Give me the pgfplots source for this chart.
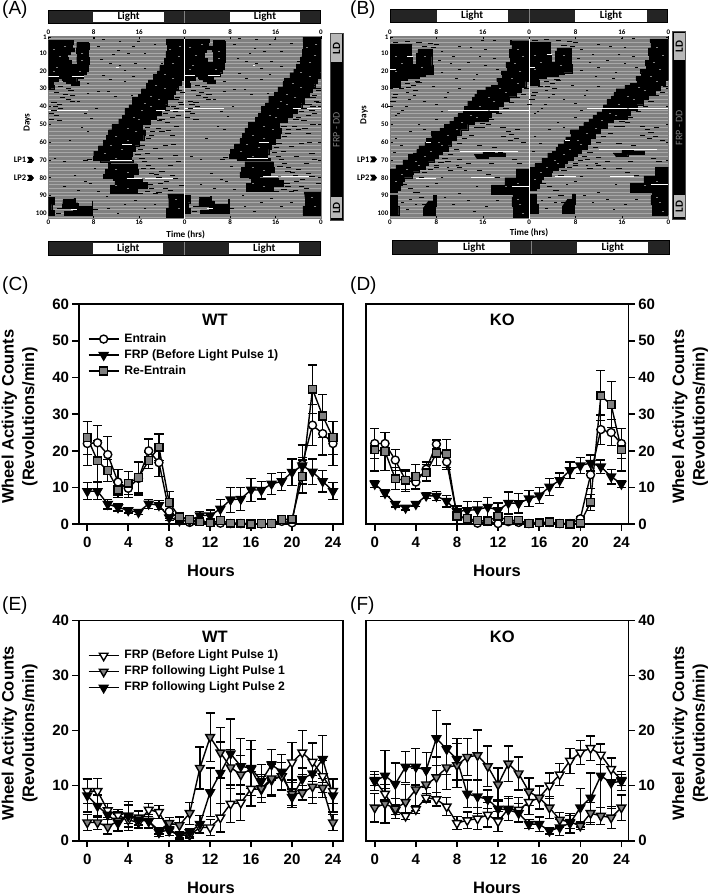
\documentclass[border=0pt]{standalone}
\usepackage{fontspec}
\setmainfont{Liberation Sans}
\newfontfamily\crl{Carlito}
\usepackage{pgfplots}
\usepackage{pgfplotstable}
\pgfplotsset{compat=1.18}

\definecolor{actbg}{gray}{0.50}
\definecolor{actline}{gray}{0.66}
\definecolor{midgray}{gray}{0.50}
\definecolor{bardark}{gray}{0.14}
\definecolor{ldgray}{gray}{0.72}

% ---- wheel activity, columns: a/ae, b/be, c/ce = the three series of a panel
\pgfplotstableread{
h a ae b be c ce
0 22 6 9 2.3 23.6 4.5
1 22.2 4.7 9 2.3 17.3 5.6
2 19 5 5.5 1.3 14.6 3
3 11.5 3.5 4.6 1 9.4 2
4 9.8 2.5 3.8 .7 11.2 3.1
5 12.5 4.5 3.3 .6 12.7 4.2
6 20 3.2 5.6 1.2 17.4 2.3
7 16.8 3.8 5.2 1.2 21 3.6
8 3.5 2 1.8 .8 5.9 3
9 1.5 .6 1 .5 2 .5
10 .5 .3 1 .5 1.3 .5
11 1 .5 2.4 1 .7 .4
12 .4 .3 2.4 1.5 .4 .3
13 .3 .2 4.2 2.6 1 .5
14 .2 .1 6.7 3.4 .3 .2
15 .2 .1 6.9 3.2 .3 .2
16 .1 .1 9.4 3.1 .1 .1
17 .1 .1 9.3 2.4 .2 .1
18 .2 .1 11 2.9 .2 .1
19 .8 .3 11.7 2.5 1.3 .5
20 .4 .3 14.2 3.6 1.4 .5
21 16.3 5.3 16 2.2 13 4.5
22 27 5.6 14.3 3.5 36.8 6.6
23 24.7 5.8 11.7 2.9 29.5 5.8
24 22 6 9 2.3 23.6 4.5
}\tabC
\pgfplotstableread{
h a ae b be c ce
0 22 4 11 1 20.3 5.8
1 22 3 8.5 1 19.8 5.1
2 17.5 2.8 5.5 .8 12.4 3
3 12 3 4.5 .6 12 2.5
4 11.5 2 5.5 .7 13 3.3
5 15 2 7.8 .8 14 2.2
6 21.8 1.3 7.7 1.2 19.4 3.4
7 17 2 6.3 1.6 19.2 3.8
8 2.5 1 3.5 1.5 2.2 2
9 1.5 .6 3.8 2.5 1.6 1
10 .3 .3 4 2.2 1 .5
11 .8 .4 4.7 2.5 .9 .4
12 .2 .2 3.8 2 2.2 .8
13 .7 .3 5.8 3 1 .4
14 .5 .3 5.7 2.6 1.1 .4
15 .2 .1 7 2.2 .2 .1
16 .4 .2 7.8 2.2 .4 .2
17 .5 .2 10.2 2.3 .6 .2
18 .2 .1 12 2 .2 .1
19 .2 .1 14.7 2.3 .1 .1
20 1.5 .5 16 2.2 .3 .2
21 13.5 3.8 16.7 2.2 6 2.2
22 25.8 4 15.7 1.8 35 6.8
23 25 3.5 13 2 32.6 6.3
24 22 4 11 1 20.3 5.8
}\tabD
\pgfplotstableread{
h a ae b be c ce
0 9 2.3 3.3 1.5 8.2 3
1 9 2.3 3.3 1.3 6.3 2
2 5.5 1.3 2.5 1.3 4.7 2
3 4.6 1 3.6 1.7 3.2 1.5
4 3.8 .7 4.5 2.6 4.5 2
5 3.3 .6 4.2 1.3 3.8 1.5
6 5.6 1.2 3.6 1.2 3.5 1.3
7 5.2 1.2 1.8 .6 1.5 .7
8 1.8 .8 3.2 1 2 1
9 1 .5 2.8 1.5 1 .7
10 1 .5 5 2 1.5 .7
11 2.4 1 13.2 3.8 3 1.6
12 2.4 1.5 18.8 4.4 8.8 4.4
13 4.2 2.6 16 4.6 12.3 5.6
14 6.7 3.4 13.3 3.3 15.8 6.3
15 6.9 3.2 12 3.5 13.5 5
16 9.4 3.1 13 3.5 13.2 5
17 9.3 2.4 9.5 2.5 10.8 3
18 11 2.9 11.3 3 13.8 2.8
19 11.7 2.5 11.7 2.5 12.5 3.2
20 14.2 3.6 8.5 2.5 7.9 1.5
21 16 4 8.7 1.3 11.2 2
22 14.3 3.5 9.8 2 12.2 5.5
23 11.7 2.9 9.6 1.7 14.8 4.3
24 9 2.3 3.3 1.5 8.2 3
}\tabE
\pgfplotstableread{
h a ae b be c ce
0 11 1 6 2.6 10.8 1.7
1 8.5 1 6.7 3.5 11.8 4.6
2 5.5 .8 5.8 1.8 10.3 3.8
3 4.5 .6 7 3.2 13.4 2.8
4 5.7 .7 9.3 3.8 13.4 3.3
5 7.8 .8 10.2 3 12.8 3.2
6 7.5 1.2 11.5 3.7 18.6 5
7 6.2 1.6 13.3 4 16.6 4.6
8 3.2 1.2 13.7 4 14.8 3.8
9 3.7 1.5 15.2 3.4 8.5 2.5
10 4 2 15.5 4.6 8 3
11 4.7 2.2 13.5 3.7 7.5 1.7
12 3.5 1.8 10.2 3 5.8 1.7
13 5.8 2.2 14 3.2 5.6 2
14 5.6 2.2 12.2 3 5 1.7
15 7 2.2 8.9 2.5 3 .8
16 7.8 2.2 7.8 2 3 1.3
17 10 2.3 6 2 1.8 .6
18 12 2 3.8 1.3 2.4 1.4
19 14.5 2.3 3.4 1.2 3.2 1.8
20 16 2.2 2.7 .7 6 3.5
21 16.8 2.2 5 2 7.8 4.5
22 15.6 1.8 4.5 1.5 11.8 5.8
23 13 2 4.2 2 10.5 4.6
24 11 1 6 2.3 10.8 1.7
}\tabF

% ---- actogram A: outlines of the black activity blocks (hour, day)
\pgfplotstableread{
h d
21 2
20.8 5
20.9 9
20.7 13
20.4 17
19.6 20
19.2 22
18.5 25
17.6 27
17.3 30
16.4 33
15.8 35
14.8 39
14.2 41
13.5 45
13 47
12.4 50
11.2 53
10.6 56
10.2 59
9.7 62
8.8 65
8 68
7.9 70
9.2 71
14.2 71
15 70
14.6 68
14.8 65
15.3 62
16 59
16.8 56
17 53
16.6 50
18 47
19 45
19.8 42
20.6 39
21 36
22 33
22.4 30
22.9 28
23.4 25
23.8 22
24 20
24 2
nan nan
11 72
10.6 75
10 78
9.7 80.5
11.4 81.5
11.7 84
10.9 88.8
15.3 88.8
15.6 86
17.4 82.5
16.5 81
13.2 80.3
15 78
15.8 75
15.6 72
nan nan
0 3
4.3 3
4.4 5
4.2 7
4.6 9
3.8 10.5
3.4 12
3.5 14
4 16
5.1 15
5 12
5.1 10
4.9 7
5 4
7 4.5
7.2 8
7.1 12
7.2 16
7 20
6.6 22
6.2 24
5 26
5.4 28
4 27
3.2 25
2.4 24
1.8 26
.8 28
1 30
0 30
nan nan
0 91
.8 91
1 95
.6 98
1 101
0 101
nan nan
2.6 92
4.5 91.5
4.7 94
5.2 96
7.7 93
7.8 101
3.2 101
2.8 99
4.4 97
2.5 95
nan nan
21 89
24 88
24 102
21.2 102
20.8 97
21.2 93
}\blockA
\pgfplotstableread{
h d
9.7 2.6
12.6 3.6
15.9 3.6
18.8 5.4
8.8 6.4
15 6.4
12.4 8.6
17 10
11.5 11
14.1 10
9.4 13.8
10.9 15.7
15.3 15.7
12.6 16.7
20 15.7
13.5 19.5
17 18.5
9.7 22.3
10.9 25
15 23
13.5 26
7 27
10.6 31.6
7 32.5
11.8 34.4
8.8 31.6
14.7 33.5
5.3 37.3
8.5 41
7.6 46.6
6.5 43.8
5.9 52
3.8 58.8
7 54
1.2 69
2.9 71
6.5 82
4.7 78.5
2.9 85
8.2 74.7
7.4 83
5.3 87
10.3 90.7
13.5 95
15.3 92.5
12.3 100
18.8 95
10.6 97
17 97
8.8 87.8
}\specksA
\pgfplotstableread{
h d
19.4 52.3
20 54.1
21.2 53.2
22.6 51.3
21.8 56
18.2 56
20.6 61.6
22 61.3
18.8 63.5
17.4 66.3
19.7 69.1
22.4 67.3
22.9 71
21.5 72.9
20 76.6
18.2 77.6
21.8 78.5
19.7 83.2
18.2 86
16.8 74.7
22.4 80.4
23.5 84.1
16.2 88.8
18.8 88.8
20.6 86
22.5 29
23 31
21.5 33
22.8 35
20.5 37
23.5 39
22 40
21 42
22.6 41
1 25
3 26
4.5 28
2.2 29
3.5 30
4 31
1.5 32
3 33
4.3 34
2.5 35
3.6 36
4.2 37
1 38
2 39
1.3 40
2.2 41
1 42
.6 44
1.4 45
.5 47
2 48
23 28
22.2 30
23.6 32
21.5 34
22.6 36
23.2 38
21 40
22.4 43
20.6 44
21.8 46
20 47
22.9 45
19.6 48
21 49
17.5 52
18.3 54
17.6 58
16.6 62
16.2 64
15.8 67
16.5 69
17 71
17.6 73
18.3 75
19 78
19.5 80
20.8 82
17 83
18 84
21.5 87
19.5 88
17.5 87.5
6.6 70.5
7.2 69.5
2 97
1.8 100
8.3 98
}\dashesA
\pgfplotstableread{
h d
0 23.3
1.8 23.3
nan nan
4.1 23.3
6.2 23.3
nan nan
10.9 70
14.7 70
nan nan
13.8 80.4
16.5 80.4
nan nan
13 61
14.8 61
nan nan
12 18
12.4 18
nan nan
0 42
7 42
nan nan
19 42
24 42
nan nan
17 80.4
22 80.4
nan nan
4 98
5 98
}\whitesA
\pgfplotstableread{
h d
21.5 8
23 12
22 16
23.2 6
20.5 22
22 24
19 28
20.5 30
18 34
19.5 36
17 38
16.5 42
18 40
15 46
16 47
14 52
15.5 54
12 57
14 59
11 62
13 64
10 66
12 69
12 75
14 77
12 84
14 86
1 8
2 12
1.5 18
6 10
6 14
5.5 20
3 6
1 20
22.5 92
23 97
}\saltA

% ---- actogram B
\pgfplotstableread{
h d
21 3
20.8 5
21 8
20.6 12
20.7 15
20 18
20.2 20
19.2 22
19.4 24
18.4 26
18.6 28
17.5 29
16.5 31
15 33
14.6 35
14.2 37
13.4 40
12.8 42
12.6 44
11.7 46
11 48
10.3 50
9.4 52
8.6 54
7.1 56
7.2 58
6.3 60
6 62
5 64
4.6 66
4 67
3.2 70
2.2 73
1 75
0 77
0 88
1.2 87
1.7 84
2.1 82
2.5 80
3.8 78
4 76.6
5 75
6 73
6.6 71
7.6 69
8.3 67
9 65
10 62
10.6 59
11.4 56
12.2 53
13.4 50
14.5 48
16.9 46
17.4 43
18.6 40
19.6 37
20.6 34.5
21.8 32
22.6 29
23.4 26
24 23
24 3
nan nan
24 75
21.8 80
19.8 84
17.5 87
17.5 89
21.2 91
21 96
21.3 102
24 102
nan nan
0 5
3.8 5
3.6 8
3.6 12
3.8 16
4.6 16
4.5 10
4.8 8
7 8
7.3 12
7.2 17
7.4 22
6 23
5 24
3 25
1.6 26
1.7 29
0 30
nan nan
0 90
1.3 90
1.2 96
1.5 101
0 101
nan nan
6.6 93
7.5 90
7.9 96
7.8 101
6 101
5.7 97
nan nan
14.5 67
16 65
18 66
19.8 68
17 69
15 69.5
}\blockB
\pgfplotstableread{
h d
16 3
18 3
12 6
14 7
9 9
16.5 8
11 12
15.5 12
18 13
8.5 14
10.5 16
13.5 15
16.5 17
12 19
18.5 19
9 21
11.5 24
14.5 25
15 22
7.5 29
10 32
6 37
8 39
12 30
9.6 35
3 32
3.4 36
4.2 34
1.5 44
2.2 42
2.8 40
1 45
9 43
8 47
5 50
3.5 54
1 58
2 62
.8 66
6 53
13 76
11.6 73
10 74
9 80
8 83
6.5 85
5 88
3.5 92
4.5 95
3 98
2.2 94
9.5 91
11 95
13.5 93
14.6 99
16.6 96
18.5 93
12 89
15 85
}\specksB
\pgfplotstableread{
h d
19.5 52
20.4 54
21 55.5
19.6 57
20.8 59
22 53
21.8 58
16 52
17 50
23 60
15.5 62
18 63
19 66
21.5 70
22.4 72
17.5 72
12 74
13.5 72
10.5 76
15.5 76
17 78
18.5 80
8 74
7 75.5
6 77
10 71
12 69.5
3.5 86
4.5 88
5.5 91
2.5 84
6 95
1.5 86
0 40
1 33
2 30
3 27
4 28
5 26.5
3.2 29.5
4.4 31
.8 35
.5 37
1 22
2.4 23
4.8 26
17.5 47
18.8 44
20 41
21 38
22 35
23 33
23.5 30
16 49.5
15 52
14 56
12.8 58
12 61
11.5 64
10.5 67
9.5 69
8.8 71.5
8 73
5.5 80
1 4
3 3.5
5 4
7 4.5
8 5
2 6
6 6.5
7.5 7
}\dashesB
\pgfplotstableread{
h d
4.5 80.4
8 80.4
nan nan
6.2 60
7 60
nan nan
0 19
1 19
nan nan
3 12
4 12
nan nan
21 85
24 85
nan nan
10 42
24 42
nan nan
12 65
22 65
nan nan
14 80
18 80
}\whitesB
\pgfplotstableread{
h d
22 8
23 12
21.5 16
22.5 20
21 24
22 27
19 30
20 32
17 35
18 37
15.5 40
17 42
14 45
15 46
12.5 49
11.5 53
10 56
8.5 60
9 62
7 65
6 68
4.5 71
5 73
3 75
2 78
1 82
22.5 95
22 92
23 100
1 12
2 16
1 20
6 12
5.5 18
20 85
22 83
}\saltB

\pgfplotsset{
  actbase/.style={
    scale only axis, width=#1, height=182.5pt, xmin=0, xmax=48, ymin=.5, ymax=103,
    xtick={0,8,...,48}, xticklabels={0,8,16,0,8,16,0},
    tick label style={font=\crl\bfseries\fontsize{7}{7}\selectfont},
    /pgf/number format/assume math mode=true,
    major tick length=2.5pt, tick style={black, line width=.5pt},
    axis line style={draw=gray, line width=.4pt},
    xticklabel style={inner sep=1pt},
  },
  act/.style={
    actbase=#1, y dir=reverse,
    ytick={1,10,20,...,100}, tick pos=both, ticklabel pos=left,
    xticklabel pos=lower,
    minor ytick={2,4,...,102}, yminorgrids=true, minor tick length=0pt,
    minor grid style={actline, line width=.8pt},
    axis background/.style={fill=actbg},
    yticklabel style={inner sep=1.5pt},
    unbounded coords=jump,
  },
  acttop/.style={
    actbase=#1, xticklabel pos=upper, ytick=\empty, axis y line=none, axis x line*=top,
  },
  panel/.style={
    scale only axis, width=#1, height=220.3pt, ymin=0,
    clip=false,
    xtick={0,4,...,24},
    tick label style={font=\bfseries\fontsize{15}{15}\selectfont},
    /pgf/number format/assume math mode=true,
    axis line style={line width=1.6pt},
    tick style={black, line width=1.6pt},
    tick align=outside, major tick length=6.5pt,
    xtick pos=bottom, xticklabel style={yshift=-3pt},
    every axis x label/.style={at={(axis description cs:.5,-.213)},anchor=center,
      font=\bfseries\fontsize{16.5}{16.5}\selectfont},
    xlabel=Hours,
    legend style={draw=none, fill=none, inner sep=0pt, outer sep=0pt,
      anchor=north west, row sep=4pt, font=\bfseries\fontsize{12.2}{12.2}\selectfont,
      nodes={text height=9pt, text depth=3pt, inner sep=0pt},
      /tikz/every odd column/.style={column sep=5pt}},
    legend cell align=left,
    legend image code/.code={
      \draw[mark repeat=2,mark phase=2,##1] plot coordinates {(0pt,0pt)(15pt,0pt)(30pt,0pt)};
    },
  },
  leftp/.style={panel=264pt, xmin=-.81, xmax=24.98, ytick pos=left,
    every axis y label/.style={at={(axis description cs:-.225,.488)},anchor=center,rotate=90,
      align=center, font=\bfseries\fontsize{16.5}{20.5}\selectfont},
    ylabel={Wheel Activity Counts\\(Revolutions/min)}},
  rightp/.style={panel=262.6pt, xmin=-.88, xmax=24.67, ytick pos=right,
    every axis y label/.style={at={(axis description cs:1.235,.488)},anchor=center,rotate=90,
      align=center, font=\bfseries\fontsize{16.5}{20.5}\selectfont},
    ylabel={Wheel Activity Counts\\(Revolutions/min)}},
  ser/.style={black, line width=1.4pt, mark options={solid, draw=black, line width=.9pt}},
  eb/.style={error bars/.cd, y dir=both, y explicit, error bar style={line width=1.25pt},
    error mark options={rotate=90, mark size=4.6pt, line width=1.25pt}, /pgfplots/.cd},
  scircle/.style={ser, mark=*, mark size=4pt, mark options={fill=white}},
  stri/.style={ser, mark=triangle*, mark size=5pt, mark options={rotate=180, fill=#1}},
  ssq/.style={ser, mark=square*, mark size=3.9pt, mark options={fill=#1}},
  blk/.style={const plot, fill=black, draw=black, line width=.3pt, forget plot},
  sm/.style={only marks, mark=-, mark size=1.3pt, mark options={line width=.9pt}, black, forget plot},
  lg/.style={only marks, mark=-, mark size=2.6pt, mark options={line width=.95pt}, black, forget plot},
  sl/.style={only marks, mark=-, mark size=1pt, mark options={line width=.6pt}, gray, forget plot},
}

\newcommand\blocks[5]{%
  \addplot[blk] table {#1};
  \addplot[blk] table[x expr=\thisrow{h}+24, y expr=\thisrow{d}-1] {#1};
  \addplot[sm] table {#2};
  \addplot[sm] table[x expr=\thisrow{h}+24, y expr=\thisrow{d}-1] {#2};
  \addplot[lg] table {#3};
  \addplot[lg] table[x expr=\thisrow{h}+24, y expr=\thisrow{d}-1] {#3};
  \addplot[sl] table {#5};
  \addplot[sl] table[x expr=\thisrow{h}+24, y expr=\thisrow{d}-1] {#5};
  \addplot[white, line width=.8pt, forget plot] table {#4};
  \addplot[white, line width=.8pt, forget plot] table[x expr=\thisrow{h}+24, y expr=\thisrow{d}-1] {#4};
  \addplot[white, line width=1pt, forget plot] coordinates {(24,.5) (24,103)};
}

% x0 x1 y0 y1, two white boxes
\newcommand\lightbar[8]{%
  \fill[bardark,draw=black,line width=.6pt] (#1,#3) rectangle (#2,#4);
  \fill[white] (#5,#3+1) rectangle (#6,#4-1);
  \fill[white] (#7,#3+1) rectangle (#8,#4-1);
  \draw[gray,line width=.5pt] ({(#1+#2)/2},#3) -- ({(#1+#2)/2},#4);
  \node[font=\crl\bfseries\fontsize{11}{11}\selectfont] at ({(#5+#6)/2},{(#3+#4)/2}) {Light};
  \node[font=\crl\bfseries\fontsize{11}{11}\selectfont] at ({(#7+#8)/2},{(#3+#4)/2}) {Light};
}
% x0 x1 y0 y1, LD boxes
\newcommand\sidebar[8]{%
  \fill[black,draw=black!70,line width=.6pt] (#1,#3) rectangle (#2,#4);
  \fill[ldgray] (#1+1,#5) rectangle (#2-1,#6);
  \fill[ldgray] (#1+1,#7) rectangle (#2-1,#8);
  \node[rotate=90,font=\crl\bfseries\fontsize{11}{11}\selectfont] at ({(#1+#2)/2},{(#5+#6)/2}) {LD};
  \node[rotate=90,font=\crl\bfseries\fontsize{11}{11}\selectfont] at ({(#1+#2)/2},{(#7+#8)/2}) {LD};
  \node[rotate=90,text=gray,font=\crl\fontsize{10}{10}\selectfont] at ({(#1+#2)/2},{(#6+#7)/2}) {FRP - DD};
}
\newcommand\chev[2]{\fill[black] (#1-3,#2-3) -- (#1+1.5,#2-3) -- (#1+4,#2) -- (#1+1.5,#2+3) -- (#1-3,#2+3) -- (#1-1,#2) -- cycle;}

\begin{document}
\begin{tikzpicture}
\path[use as bounding box] (0pt,0pt) rectangle (709pt,895pt);

% ---------- actograms
\begin{axis}[act=272.7pt, at={(48.3pt,676.3pt)}, anchor=south west]
\blocks{\blockA}{\specksA}{\dashesA}{\whitesA}{\saltA}
\end{axis}
\begin{axis}[acttop=272.7pt, at={(48.3pt,676.3pt)}, anchor=south west]
\end{axis}
\begin{axis}[act=278.3pt, at={(390pt,676.3pt)}, anchor=south west]
\blocks{\blockB}{\specksB}{\dashesB}{\whitesB}{\saltB}
\end{axis}
\begin{axis}[acttop=278.3pt, at={(390pt,676.3pt)}, anchor=south west]
\end{axis}

% ---------- panel C
\begin{axis}[leftp, at={(79pt,370.7pt)}, anchor=south west, ymax=60, ytick={0,10,...,60},
  legend style={at={(axis description cs:.034,.868)}}]
\addlegendimage{scircle}\addlegendentry{Entrain}
\addlegendimage{stri=black}\addlegendentry{FRP (Before Light Pulse 1)}
\addlegendimage{ssq=midgray}\addlegendentry{Re-Entrain}
\addplot[scircle, eb, forget plot] table[x=h,y=a,y error=ae] {\tabC};
\addplot[stri=black, eb, forget plot] table[x=h,y=b,y error=be] {\tabC};
\addplot[ssq=midgray, eb, forget plot] table[x=h,y=c,y error=ce] {\tabC};
\node[font=\bfseries\fontsize{16.5}{16.5}\selectfont] at (axis description cs:.515,.93) {WT};
\end{axis}

% ---------- panel D
\begin{axis}[rightp, at={(365.7pt,370.7pt)}, anchor=south west, ymax=60, ytick={0,10,...,60}]
\addplot[scircle, eb, forget plot] table[x=h,y=a,y error=ae] {\tabD};
\addplot[stri=black, eb, forget plot] table[x=h,y=b,y error=be] {\tabD};
\addplot[ssq=midgray, eb, forget plot] table[x=h,y=c,y error=ce] {\tabD};
\node[font=\bfseries\fontsize{16.5}{16.5}\selectfont] at (axis description cs:.52,.93) {KO};
\end{axis}

% ---------- panel E
\begin{axis}[leftp, at={(79pt,54.3pt)}, anchor=south west, ymax=40, ytick={0,10,...,40},
  legend style={at={(axis description cs:.034,.867)}}]
\addlegendimage{stri=white}\addlegendentry{FRP (Before Light Pulse 1)}
\addlegendimage{stri=midgray}\addlegendentry{FRP following Light Pulse 1}
\addlegendimage{stri=black}\addlegendentry{FRP following Light Pulse 2}
\addplot[stri=white, eb, forget plot] table[x=h,y=a,y error=ae] {\tabE};
\addplot[stri=midgray, eb, forget plot] table[x=h,y=b,y error=be] {\tabE};
\addplot[stri=black, eb, forget plot] table[x=h,y=c,y error=ce] {\tabE};
\node[font=\bfseries\fontsize{16.5}{16.5}\selectfont] at (axis description cs:.515,.9275) {WT};
\end{axis}

% ---------- panel F
\begin{axis}[rightp, at={(365.7pt,54.3pt)}, anchor=south west, ymax=40, ytick={0,10,...,40}]
\addplot[stri=white, eb, forget plot] table[x=h,y=a,y error=ae] {\tabF};
\addplot[stri=midgray, eb, forget plot] table[x=h,y=b,y error=be] {\tabF};
\addplot[stri=black, eb, forget plot] table[x=h,y=c,y error=ce] {\tabF};
\node[font=\bfseries\fontsize{16.5}{16.5}\selectfont] at (axis description cs:.52,.9275) {KO};
\end{axis}

% ---------- things round the actograms, in reference pixels (y down)
\begin{scope}[x=1pt,y=-1pt,yshift=895pt]
\lightbar{48.3}{320}{10.7}{23.3}{93.3}{164}{230}{300}
\lightbar{48.3}{320}{241.7}{255}{93.3}{163.3}{229.3}{299.3}
\lightbar{390.7}{667}{9.3}{22.7}{436.7}{507.7}{575.3}{646.7}
\lightbar{392.7}{669}{240.7}{254}{438.3}{510}{577.3}{648.3}
\sidebar{330}{343}{33.5}{220}{34.5}{62}{197.5}{218.5}
\sidebar{672.7}{685.7}{31.7}{219}{33}{60}{195}{217.5}
\node[font=\crl\bfseries\fontsize{9.2}{9.2}\selectfont] at (185.7,234.3) {Time (hrs)};
\node[font=\crl\bfseries\fontsize{9.2}{9.2}\selectfont] at (529,232.3) {Time (hrs)};
\node[rotate=90,font=\crl\bfseries\fontsize{9.2}{9.2}\selectfont] at (27.3,122.7) {Days};
\node[rotate=90,font=\crl\bfseries\fontsize{9.2}{9.2}\selectfont] at (364,115) {Days};
\node[font=\crl\bfseries\fontsize{8.5}{8.5}\selectfont] at (20,160) {LP1};
\node[font=\crl\bfseries\fontsize{8.5}{8.5}\selectfont] at (20,178) {LP2};
\node[font=\crl\bfseries\fontsize{8.5}{8.5}\selectfont] at (363.3,159.3) {LP1};
\node[font=\crl\bfseries\fontsize{8.5}{8.5}\selectfont] at (363.3,177.7) {LP2};
\chev{30}{160}\chev{30}{178}\chev{373}{159.3}\chev{373}{177.7}
\foreach \x/\y/\t in {2/10/(A),350/10/(B),2/286/(C),350/286/(D),2/606/(E),350/606/(F)}
  \node[anchor=west,inner sep=0pt,font=\fontsize{19}{19}\selectfont] at (\x,\y) {\t};
\end{scope}
\end{tikzpicture}
\end{document}
